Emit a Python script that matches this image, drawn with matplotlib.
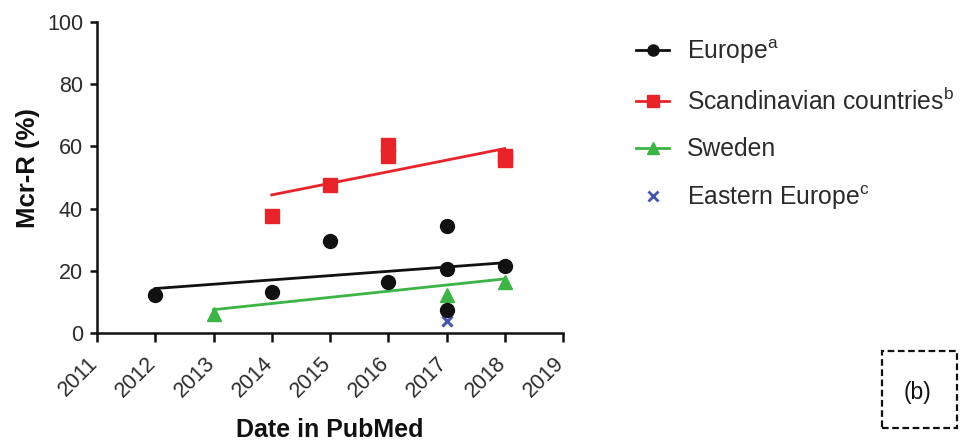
import numpy as np
import matplotlib
matplotlib.use("Agg")
import matplotlib.pyplot as plt
from matplotlib.patches import Rectangle
from matplotlib.lines import Line2D
from matplotlib.transforms import ScaledTranslation

plt.rcParams['font.family'] = ['Liberation Sans', 'DejaVu Sans']
plt.rcParams['mathtext.fontset'] = 'custom'
plt.rcParams['mathtext.rm'] = 'Liberation Sans'
plt.rcParams['mathtext.it'] = 'Liberation Sans:italic'
plt.rcParams['mathtext.bf'] = 'Liberation Sans:bold'

# --- Datos: prevalencia de mcr-R (%) por año de publicación ---
europa_anio = [2012, 2014, 2015, 2016, 2017, 2017, 2017, 2018]
europa_val = [12.2, 13.3, 29.7, 16.5, 34.4, 20.5, 7.4, 21.5]

escandinavia_anio = [2014, 2015, 2016, 2016, 2018, 2018]
escandinavia_val = [37.6, 47.6, 60.5, 57.0, 57.0, 55.5]

suecia_anio = [2013, 2017, 2018]
suecia_val = [6.1, 12.2, 16.5]

este_anio = [2017]
este_val = [4.0]

# Líneas de tendencia (extremos)
tend_europa_anio = [2012, 2018]
tend_europa_val = [14.3, 22.6]
tend_escand_anio = [2014, 2018]
tend_escand_val = [44.4, 59.3]
tend_suecia_anio = [2013, 2018]
tend_suecia_val = [7.5, 17.4]

anios_ticks = list(range(2011, 2020))
y_ticks = [0, 20, 40, 60, 80, 100]

c_negro = '#111111'
c_rojo = '#e8242a'
c_verde = '#3cb446'
c_azul = '#4455b0'
c_texto = '#2b2b2b'

fig = plt.figure(figsize=(9.62, 4.41), dpi=100)
ax = fig.add_axes([97 / 962, 1 - 333 / 441, 466 / 962, 311 / 441])

# Tendencias
ax.plot(tend_europa_anio, tend_europa_val, color=c_negro, lw=2, zorder=2)
ax.plot(tend_escand_anio, tend_escand_val, color=c_rojo, lw=2, zorder=2)
ax.plot(tend_suecia_anio, tend_suecia_val, color=c_verde, lw=2, zorder=2)

# Puntos
ax.plot(este_anio, este_val, ls='none', marker='x', ms=7.5, mew=2.2,
        color=c_azul, zorder=3, clip_on=False)
ax.plot(suecia_anio, suecia_val, ls='none', marker='^', ms=9.5,
        color=c_verde, zorder=4, clip_on=False)
ax.plot(escandinavia_anio, escandinavia_val, ls='none', marker='s', ms=9.5,
        color=c_rojo, zorder=4, clip_on=False)
ax.plot(europa_anio, europa_val, ls='none', marker='o', ms=10,
        color=c_negro, zorder=5, clip_on=False)

# Ejes
ax.set_xlim(2011, 2019)
ax.set_ylim(0, 100)
ax.set_xticks(anios_ticks)
ax.set_xticklabels([str(a) for a in anios_ticks])
ax.set_yticks(y_ticks)
for lado in ['top', 'right']:
    ax.spines[lado].set_visible(False)
for lado in ['left', 'bottom']:
    ax.spines[lado].set_linewidth(1.8)
    ax.spines[lado].set_color(c_negro)

ax.tick_params(axis='y', length=5, width=1.8, pad=5, labelsize=15.5,
               labelcolor=c_texto, color=c_negro)
ax.tick_params(axis='x', length=6.5, width=1.8, pad=13, labelsize=15.5,
               labelcolor=c_texto, color=c_negro)
desplaza = ScaledTranslation(-1.5 / 72, 0, fig.dpi_scale_trans)
for etq in ax.get_xticklabels():
    etq.set_rotation(45)
    etq.set_ha('right')
    etq.set_va('center')
    etq.set_rotation_mode('anchor')
    etq.set_transform(etq.get_transform() + desplaza)

ax.set_xlabel('Date in PubMed', fontsize=18, fontweight='bold', color=c_negro,
              va='center')
ax.xaxis.set_label_coords(0.5, (333 - 430) / 311)
ax.set_ylabel('Mcr-R (%)', fontsize=18.5, fontweight='bold', color=c_negro,
              va='center')
ax.yaxis.set_label_coords((28 - 97) / 466, (333 - 168) / 311)

# Leyenda
manejadores = [
    Line2D([], [], color=c_negro, lw=2, marker='o', ms=8),
    Line2D([], [], color=c_rojo, lw=2, marker='s', ms=8),
    Line2D([], [], color=c_verde, lw=2, marker='^', ms=8),
    Line2D([], [], color=c_azul, ls='none', marker='x', ms=6.5, mew=2),
]
etiquetas = [
    r'Europe$^{\mathrm{a}}$',
    r'Scandinavian countries$^{\mathrm{b}}$',
    'Sweden',
    r'Eastern Europe$^{\mathrm{c}}$',
]
leg = fig.legend(manejadores, etiquetas, loc='upper left',
                 bbox_to_anchor=(636 / 962, 1 - 37 / 441),
                 frameon=False, fontsize=17.8, handlelength=1.35,
                 handletextpad=0.7, labelspacing=0.9, borderpad=0,
                 borderaxespad=0)
for t in leg.get_texts():
    t.set_color(c_texto)

# Recuadro (b)
fig.add_artist(Rectangle((882 / 962, 1 - 428 / 441), 75 / 962, 77 / 441,
                         transform=fig.transFigure, fill=False,
                         ls=(0, (3, 1.6)), lw=1.6, edgecolor=c_negro))
fig.text(918 / 962, 1 - 392 / 441, '(b)', fontsize=16.5, color=c_negro,
         ha='center', va='center')

fig.savefig('out.png', dpi=100)
